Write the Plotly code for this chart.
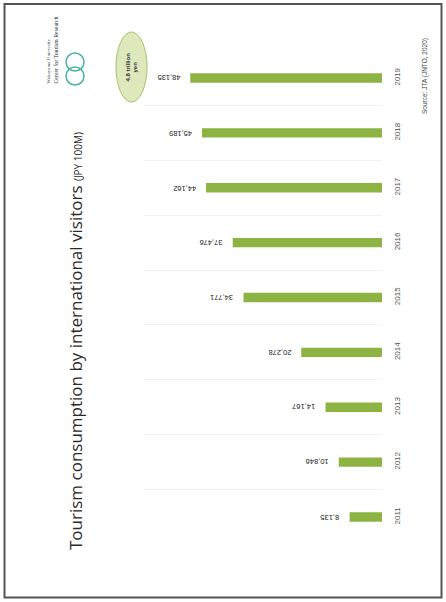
import plotly.graph_objects as go

# Inbound tourism consumption, JPY 100 million
years = [2011, 2012, 2013, 2014, 2015, 2016, 2017, 2018, 2019]
consumption = [8135, 10846, 14167, 20278, 34771, 37476, 44162, 45189, 48135]

title_main = "Tourism consumption by international visitors "
title_unit = "(JPY 100M)"
source_note = "Source: JTA (JNTO, 2020)"
callout = "4.8 trillion<br>yen"
org_lines = ["Wakayama University", "Center for Tourism Research"]

W, H = 446, 602
bar_color = "#8db443"

fig = go.Figure()
fig.add_trace(go.Bar(
    x=consumption,
    y=years,
    orientation="h",
    width=0.17,
    marker=dict(color=bar_color, line=dict(width=0)),
    showlegend=False,
))

# value labels, upside down, just beyond each bar end
for v, yr in zip(consumption, years):
    fig.add_annotation(
        x=v, y=yr, xref="x", yref="y",
        text=f"{v:,}", textangle=180, showarrow=False,
        xanchor="right", yanchor="middle", xshift=-8,
        font=dict(family="Liberation Sans, Arial", size=7.5, color="#222222"),
    )

half_steps = [y - 0.5 for y in years] + [years[-1] + 0.5]

fig.update_layout(
    width=W, height=H,
    margin=dict(l=0, r=0, t=0, b=0),
    paper_bgcolor="white",
    plot_bgcolor="white",
    xaxis=dict(
        range=[60000, 0],
        domain=[143 / W, 382 / W],
        showgrid=False, zeroline=False, showticklabels=False, showline=False,
    ),
    yaxis=dict(
        range=[2010.5, 2019.5],
        domain=[(H - 544.4) / H, (H - 50.6) / H],
        side="right",
        tickmode="array",
        tickvals=years,
        ticktext=[str(y) for y in years],
        tickangle=-90,
        ticks="outside", ticklen=7, tickcolor="rgba(0,0,0,0)",
        tickfont=dict(family="Liberation Sans, Arial", size=8, color="#555555"),
        showgrid=False, zeroline=False, showline=False,
        minor=dict(tickmode="array", tickvals=half_steps, showgrid=True,
                   gridcolor="#f3f3f3", gridwidth=1, ticks=""),
    ),
    bargap=0.8,
)

# slide frame
fig.add_shape(type="rect", xref="paper", yref="paper",
              x0=4.5 / W, x1=441.5 / W, y0=1 - 597.5 / H, y1=1 - 4 / H,
              line=dict(color="#555555", width=2), fillcolor="rgba(0,0,0,0)")

# title (rotated)
fig.add_annotation(
    xref="paper", yref="paper", x=75 / W, y=1 - 552 / H,
    xanchor="center", yanchor="bottom", textangle=-90, showarrow=False,
    text=(f"<span style='font-size:17px'>{title_main}</span>"
          f"<span style='font-size:10px'>{title_unit}</span>"),
    font=dict(family="Open Sans, Noto Sans", color="#2b2b2b"),
)

# logo mark
for cy, r in [(62, 9), (76, 9)]:
    fig.add_shape(type="circle", xref="paper", yref="paper",
                  x0=(75 - r) / W, x1=(75 + r) / W,
                  y0=1 - (cy + r) / H, y1=1 - (cy - r) / H,
                  line=dict(color="#49b3a5", width=1.5), fillcolor="rgba(0,0,0,0)")
fig.add_annotation(
    xref="paper", yref="paper", x=48 / W, y=1 - 86 / H,
    xanchor="center", yanchor="bottom", textangle=-90, showarrow=False,
    text=org_lines[0],
    font=dict(family="Liberation Serif, DejaVu Serif", size=5, color="#3a3a4a"),
)
fig.add_annotation(
    xref="paper", yref="paper", x=56 / W, y=1 - 86 / H,
    xanchor="center", yanchor="bottom", textangle=-90, showarrow=False,
    text=org_lines[1],
    font=dict(family="Liberation Serif, DejaVu Serif", size=5.8, color="#2a2a3a"),
)

# callout ellipse
fig.add_shape(type="circle", xref="paper", yref="paper",
              x0=116 / W, x1=147 / W, y0=1 - 102 / H, y1=1 - 32 / H,
              line=dict(color="#a9c06a", width=1), fillcolor="#dde8bd")
fig.add_annotation(
    xref="paper", yref="paper", x=131.5 / W, y=1 - 67 / H,
    xanchor="center", yanchor="middle", textangle=-90, showarrow=False,
    text=f"<b>{callout}</b>",
    font=dict(family="Liberation Sans, Arial", size=6, color="#333333"),
)

# source note
fig.add_annotation(
    xref="paper", yref="paper", x=425 / W, y=1 - 116 / H,
    xanchor="center", yanchor="bottom", textangle=-90, showarrow=False,
    text=source_note,
    font=dict(family="Liberation Sans, Arial", size=6.5, color="#444444"),
)

fig.write_html("out.html")
